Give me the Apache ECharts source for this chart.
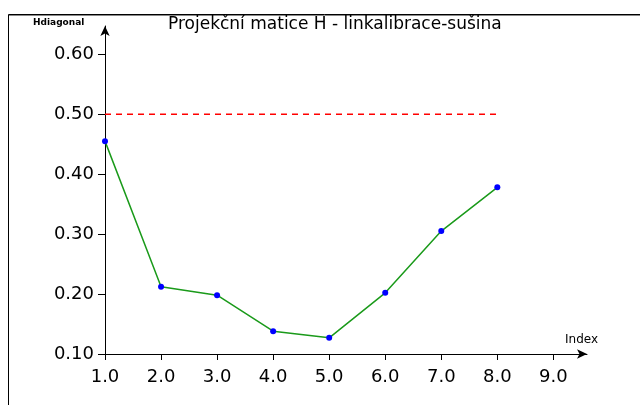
<!DOCTYPE html>
<html><head><meta charset="utf-8">
<script src="https://cdn.jsdelivr.net/npm/echarts@6/dist/echarts.min.js"></script>
<style>html,body{margin:0;padding:0;background:#fff}#c{width:640px;height:405px}</style>
</head><body><div id="c"></div>
<script>
const xValues = [1, 2, 3, 4, 5, 6, 7, 8];
const hValues = [0.455, 0.212, 0.198, 0.138, 0.127, 0.202, 0.305, 0.378];
const limitValue = 0.5;
const xTicks = [1, 2, 3, 4, 5, 6, 7, 8, 9];
const yTicks = [0.1, 0.2, 0.3, 0.4, 0.5, 0.6];
const titleText = 'Projekční matice H - linkalibrace-sušina';
const xName = 'Index';
const yName = 'Hdiagonal';

const chart = echarts.init(document.getElementById('c'));
const font = 'DejaVu Sans, Verdana, sans-serif';
chart.setOption({
  backgroundColor: '#fff',
  animation: false,
  title: {text: titleText, left: 163, top: 11, textStyle: {fontSize: 17, fontWeight: 'normal', color: '#000', fontFamily: font}},
  graphic: [
    {type: 'line', shape: {x1: 8.5, y1: 14.5, x2: 640, y2: 14.5}, style: {stroke: '#000', lineWidth: 1}},
    {type: 'line', shape: {x1: 9, y1: 15.5, x2: 640, y2: 15.5}, style: {stroke: '#888', lineWidth: 1}},
    {type: 'line', shape: {x1: 8.5, y1: 14.5, x2: 8.5, y2: 405}, style: {stroke: '#000', lineWidth: 1}},
    {type: 'text', left: 33, top: 18, style: {text: yName, font: 'bold 9px ' + font, fill: '#000'}}
  ],
  grid: {left: 105, right: 53, top: 26, bottom: 51},
  xAxis: {
    type: 'value', min: 1, max: 9.6,
    name: xName, nameLocation: 'end', nameGap: -22,
    nameTextStyle: {fontSize: 12, color: '#000', fontFamily: font, verticalAlign: 'bottom', padding: [0, 0, 8, 0]},
    axisLine: {lineStyle: {color: '#000', width: 1}, symbol: ['none', 'arrow'], symbolSize: [7, 10]},
    axisTick: {show: true, length: 6, customValues: xTicks, lineStyle: {color: '#000'}},
    axisLabel: {customValues: xTicks, color: '#000', fontSize: 18, fontFamily: font, margin: 14,
      formatter: v => v.toFixed(1)},
    splitLine: {show: false}
  },
  yAxis: {
    type: 'value', min: 0.1, max: 0.647,
    axisLine: {show: true, lineStyle: {color: '#000', width: 1}, symbol: ['none', 'arrow'], symbolSize: [7, 10]},
    axisTick: {show: true, length: 7, customValues: yTicks, lineStyle: {color: '#000'}},
    axisLabel: {customValues: yTicks, color: '#000', fontSize: 18, fontFamily: font, margin: 11,
      formatter: v => v.toFixed(2)},
    splitLine: {show: false}
  },
  series: [
    {
      type: 'line', data: xValues.map((x, i) => [x, hValues[i]]),
      lineStyle: {color: '#1a9a1a', width: 1.5},
      symbol: 'circle', symbolSize: 6, itemStyle: {color: '#0000ff'}, z: 3
    },
    {
      type: 'line', data: [[xValues[0], limitValue], [xValues[xValues.length - 1], limitValue]],
      lineStyle: {color: '#ff0000', width: 1.5, type: [6, 5]}, symbol: 'none', z: 2
    }
  ]
});
</script></body></html>
